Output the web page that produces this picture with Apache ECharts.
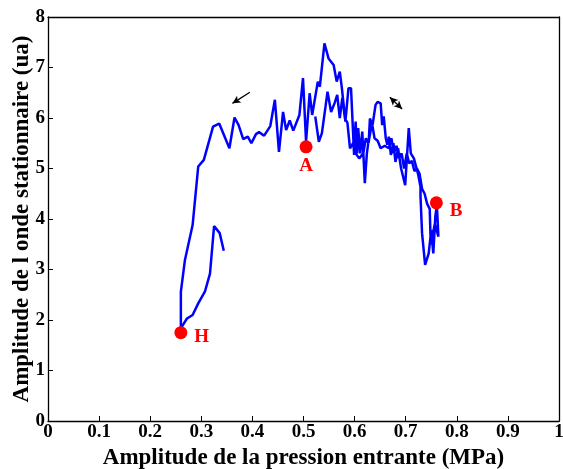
<!DOCTYPE html>
<html>
<head>
<meta charset="utf-8">
<script src="https://cdn.jsdelivr.net/npm/echarts@6/dist/echarts.min.js"></script>
<style>
  html, body { margin: 0; padding: 0; background: #fff; }
  #chart { width: 563px; height: 469px; }
</style>
</head>
<body>
<div id="chart"></div>
<script>
// courbe : pression entrante (MPa) / amplitude onde stationnaire (ua), dans l'ordre du tracé
const pression = [
  0.344, 0.336, 0.325, 0.317, 0.307, 0.294, 0.283, 0.272, 0.262, 0.260,
  0.260, 0.268, 0.283, 0.294, 0.305, 0.323, 0.335, 0.355, 0.365, 0.373,
  0.382, 0.391, 0.398, 0.407, 0.413, 0.423, 0.435, 0.444, 0.452, 0.460,
  0.466, 0.473, 0.480, 0.492, 0.499, 0.505, 0.512, 0.517,
  0.528, 0.532, 0.541, 0.549, 0.559, 0.565, 0.571, 0.575, 0.582, 0.588,
  0.593, 0.599, 0.602, 0.605, 0.607, 0.611, 0.615, 0.620, 0.624, 0.628,
  0.630, 0.635, 0.641, 0.645, 0.651, 0.654, 0.657, 0.661, 0.664, 0.667,
  0.671, 0.676, 0.680, 0.685, 0.691, 0.699, 0.706, 0.710, 0.716, 0.724,
  0.729, 0.729, 0.732, 0.738, 0.745, 0.750, 0.754, 0.758, 0.761, 0.764,
  0.757, 0.749, 0.747, 0.742, 0.737, 0.732, 0.727, 0.722, 0.717, 0.712,
  0.707, 0.702, 0.697, 0.692, 0.687, 0.682, 0.677, 0.672, 0.667, 0.659,
  0.651, 0.645, 0.639, 0.634, 0.627, 0.622, 0.617, 0.609, 0.602, 0.597,
  0.591, 0.586, 0.581, 0.576, 0.571, 0.566, 0.561, 0.554, 0.547, 0.543,
  0.536, 0.530, 0.523
];
const amplitude = [
  3.37, 3.72, 3.86, 2.92, 2.56, 2.33, 2.10, 2.03, 1.87, 1.75,
  2.56, 3.19, 3.88, 5.04, 5.17, 5.83, 5.89, 5.40, 6.01, 5.86,
  5.58, 5.63, 5.50, 5.68, 5.72, 5.65, 5.84, 6.36, 5.33, 6.12,
  5.76, 5.95, 5.75, 6.06, 6.79, 5.53, 6.49, 6.06,
  6.72, 6.62, 7.48, 7.18, 7.05, 6.72, 6.92, 6.60, 5.93, 6.59,
  6.59, 5.27, 5.93, 5.30, 5.80, 5.30, 5.73, 4.71, 5.30, 5.60,
  5.99, 5.85, 6.26, 6.32, 6.29, 5.86, 6.03, 5.60, 5.47, 5.63,
  5.27, 5.50, 5.13, 5.40, 5.00, 4.67, 5.80, 5.30, 5.20, 4.90,
  4.64, 4.44, 3.72, 3.09, 3.32, 3.78, 3.32, 4.05, 4.28, 3.65,
  3.90, 3.50, 4.20, 4.30, 4.50, 4.60, 4.90, 5.00, 4.95, 5.15,
  5.10, 5.30, 5.00, 5.30, 5.20, 5.45, 5.30, 5.60, 5.40, 5.45,
  5.40, 5.55, 5.60, 5.90, 5.50, 5.60, 5.30, 5.20, 5.30, 5.50,
  5.40, 5.90, 6.00, 6.40, 6.00, 6.46, 6.30, 6.12, 6.52, 6.22,
  5.70, 5.53, 6.03
];

// points repérés
const pointsNoms = ['A', 'B', 'H'];
const pointsX = [0.505, 0.760, 0.260];
const pointsY = [5.43, 4.32, 1.75];

// flèches (début, fin)
const flecheGauche = [[0.395, 6.51], [0.361, 6.29]];
const flecheDouble = [[0.669, 6.41], [0.693, 6.18]];

const xTicks = [0, 0.1, 0.2, 0.3, 0.4, 0.5, 0.6, 0.7, 0.8, 0.9, 1];

const police = 'Liberation Serif';

const courbe = pression.map((x, i) => [x, amplitude[i]]);
const etiquettes = {
  A: { position: 'bottom', distance: 3 },
  B: { position: 'right', distance: 7, offset: [0, 8] },
  H: { position: 'right', distance: 7, offset: [0, 4] }
};
const points = pointsNoms.map((n, i) => ({
  value: [pointsX[i], pointsY[i]],
  label: etiquettes[n]
}));

const axeStyle = { lineStyle: { color: '#000', width: 1.3 } };

let option = {
  animation: false,
  backgroundColor: '#fff',
  grid: { left: 48, right: 4, top: 17, bottom: 48, outerBoundsMode: 'none' },
  xAxis: [
    {
      type: 'value',
      min: 0, max: 1, interval: 0.1,
      splitLine: { show: false },
      axisLine: axeStyle,
      axisTick: { inside: true, length: 5, lineStyle: { color: '#000' } },
      axisLabel: {
        color: '#000', fontFamily: police, fontWeight: 'bold', fontSize: 19, margin: 2,
        formatter: v => {
          const t = xTicks.find(k => Math.abs(k - v) < 1e-9);
          return t === undefined ? '' : String(t);
        }
      },
      name: 'Amplitude de la pression entrante (MPa)',
      nameLocation: 'middle',
      nameGap: 26,
      nameTextStyle: { color: '#000', fontFamily: police, fontWeight: 'bold', fontSize: 23 }
    },
    {
      type: 'value', position: 'top', min: 0, max: 1,
      axisLine: { show: true, onZero: false, lineStyle: { color: '#000', width: 1.3 } },
      axisTick: { show: false }, axisLabel: { show: false }, splitLine: { show: false }
    }
  ],
  yAxis: [
    {
      type: 'value',
      min: 0, max: 8, interval: 1,
      splitLine: { show: false },
      axisLine: { show: true, lineStyle: { color: '#000', width: 1.3 } },
      axisTick: { show: true, inside: true, length: 5, lineStyle: { color: '#000' } },
      axisLabel: { color: '#000', fontFamily: police, fontWeight: 'bold', fontSize: 19, margin: 3 },
      name: 'Amplitude de l onde stationnaire (ua)',
      nameLocation: 'middle',
      nameGap: 14,
      nameMoveOverlap: false,
      nameTextStyle: { color: '#000', fontFamily: police, fontWeight: 'bold', fontSize: 23 }
    },
    {
      type: 'value', position: 'right', min: 0, max: 8,
      axisLine: { show: true, onZero: false, lineStyle: { color: '#000', width: 1.3 } },
      axisTick: { show: false }, axisLabel: { show: false }, splitLine: { show: false }
    }
  ],
  series: [
    {
      type: 'line',
      data: courbe,
      showSymbol: false,
      lineStyle: { color: '#0000ff', width: 2.5 },
      markLine: {
        silent: true,
        symbol: ['none', 'arrow'],
        symbolSize: [6, 8],
        label: { show: false },
        lineStyle: { color: '#000', width: 1.3, type: 'solid' },
        data: [
          [{ coord: flecheGauche[0] }, { coord: flecheGauche[1] }],
          [{ coord: flecheDouble[0], symbol: 'arrow' }, { coord: flecheDouble[1] }]
        ]
      }
    },
    {
      type: 'scatter',
      data: points,
      symbolSize: 13,
      itemStyle: { color: '#ff0000', opacity: 1 },
      label: {
        show: true,
        formatter: p => pointsNoms[p.dataIndex],
        color: '#ff0000', fontFamily: police, fontWeight: 'bold', fontSize: 19
      },
      z: 5
    }
  ]
};

let chart = echarts.init(document.getElementById('chart'));
chart.setOption(option);
</script>
</body>
</html>
